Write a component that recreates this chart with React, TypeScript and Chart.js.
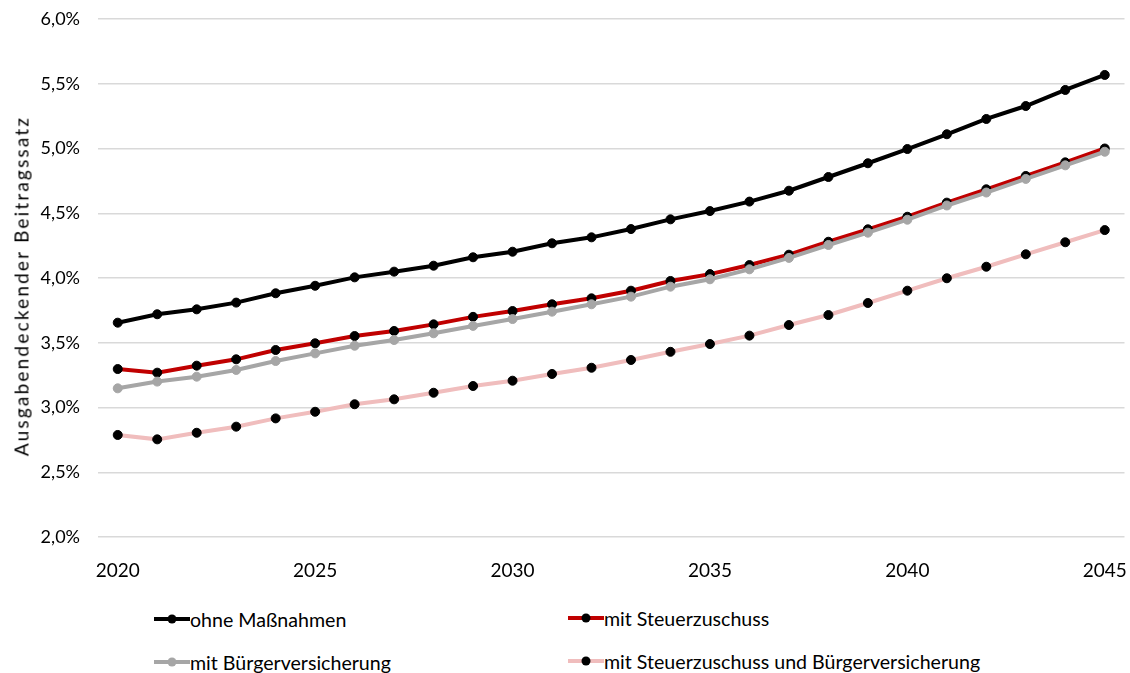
import React, { useEffect, useRef } from "react";
import { Chart, registerables } from "chart.js";

Chart.register(...registerables);

// Years on the x axis
const years = [
  "2020", "2021", "2022", "2023", "2024", "2025", "2026", "2027", "2028",
  "2029", "2030", "2031", "2032", "2033", "2034", "2035", "2036", "2037",
  "2038", "2039", "2040", "2041", "2042", "2043", "2044", "2045",
];

// Expenditure-covering contribution rate in percent, per scenario
const ohneMassnahmen = [
  3.655, 3.72, 3.758, 3.81, 3.882, 3.94, 4.005, 4.049, 4.095, 4.16, 4.203,
  4.268, 4.314, 4.378, 4.453, 4.517, 4.59, 4.674, 4.78, 4.886, 4.996, 5.11,
  5.228, 5.328, 5.452, 5.568,
];
const mitSteuerzuschuss = [
  3.297, 3.269, 3.323, 3.372, 3.444, 3.496, 3.552, 3.591, 3.642, 3.7, 3.745,
  3.797, 3.843, 3.902, 3.977, 4.03, 4.1, 4.18, 4.28, 4.376, 4.473, 4.582,
  4.685, 4.788, 4.893, 5.0,
];
const mitBuergerversicherung = [
  3.148, 3.2, 3.238, 3.29, 3.359, 3.418, 3.477, 3.521, 3.573, 3.63, 3.683,
  3.74, 3.797, 3.856, 3.933, 3.99, 4.067, 4.155, 4.255, 4.35, 4.45, 4.56,
  4.66, 4.765, 4.87, 4.975,
];
const mitBeidem = [
  2.788, 2.754, 2.805, 2.852, 2.916, 2.967, 3.025, 3.063, 3.114, 3.166, 3.207,
  3.259, 3.307, 3.367, 3.43, 3.49, 3.555, 3.637, 3.714, 3.807, 3.902, 3.998,
  4.087, 4.183, 4.276, 4.37,
];

const seriesNames = [
  "ohne Maßnahmen",
  "mit Steuerzuschuss",
  "mit Bürgerversicherung",
  "mit Steuerzuschuss und Bürgerversicherung",
];
const lineColors = ["#000000", "#c00000", "#a6a6a6", "#f0bdbd"];
const pointColors = ["#000000", "#000000", "#a6a6a6", "#000000"];
const drawOrder = [2, 1, 0, 3];
const yAxisTitle = "Ausgabendeckender Beitragssatz";

const FONT = "Lato, 'Open Sans', sans-serif";

function LegendItem({ idx, left, top }: { idx: number; left: number; top: number }) {
  return (
    <div
      style={{
        position: "absolute",
        left,
        top: top - 12,
        height: 24,
        display: "flex",
        alignItems: "center",
        fontFamily: FONT,
        fontSize: 19.6,
        color: "#000",
        whiteSpace: "nowrap",
      }}
    >
      <svg width={36} height={24} style={{ display: "block", marginRight: 0 }}>
        <line x1={0} y1={12} x2={36} y2={12} stroke={lineColors[idx]} strokeWidth={4} />
        <circle cx={18} cy={12} r={4.5} fill={pointColors[idx]} />
      </svg>
      <span>{seriesNames[idx]}</span>
    </div>
  );
}

export default function App() {
  const canvasRef = useRef<HTMLCanvasElement | null>(null);

  useEffect(() => {
    const canvas = canvasRef.current;
    if (!canvas) return;
    const values = [ohneMassnahmen, mitSteuerzuschuss, mitBuergerversicherung, mitBeidem];
    const chart = new Chart(canvas, {
      type: "line",
      data: {
        labels: years,
        datasets: values.map((data, i) => ({
          label: seriesNames[i],
          data,
          borderColor: lineColors[i],
          backgroundColor: pointColors[i],
          pointBackgroundColor: pointColors[i],
          pointBorderColor: pointColors[i],
          borderWidth: 4,
          pointRadius: 4.5,
          pointBorderWidth: 1,
          tension: 0,
          fill: false,
          order: drawOrder[i],
        })),
      },
      options: {
        responsive: false,
        animation: false,
        devicePixelRatio: 1,
        layout: { padding: { top: 19, left: 0, right: 5, bottom: 0 } },
        plugins: {
          legend: { display: false },
          tooltip: { enabled: false },
        },
        scales: {
          x: {
            offset: true,
            grid: { display: false, drawTicks: false },
            border: { display: false },
            ticks: {
              color: "#000",
              font: { family: FONT, size: 19 },
              padding: 22,
              autoSkip: false,
              maxRotation: 0,
              callback: (_v: any, i: number) => (i % 5 === 0 ? years[i] : ""),
            },
            afterFit: (scale: any) => {
              scale.height = 53;
              scale.paddingLeft = 0;
              scale.paddingRight = 0;
            },
          },
          y: {
            min: 2,
            max: 6,
            grid: { color: "#d9d9d9", lineWidth: 1.5, drawTicks: false },
            border: { display: false },
            ticks: {
              stepSize: 0.5,
              color: "#000",
              padding: 18,
              font: { family: FONT, size: 18 },
              callback: (v: any) => Number(v).toFixed(1).replace(".", ",") + "%",
            },
            afterFit: (scale: any) => {
              scale.width = 98;
              scale.paddingTop = 0;
              scale.paddingBottom = 0;
            },
          },
        },
      },
    });
    return () => chart.destroy();
  }, []);

  return (
    <div
      style={{
        position: "absolute",
        left: 0,
        top: 0,
        width: 1130,
        height: 673,
        background: "#fff",
        overflow: "hidden",
      }}
    >
      <canvas ref={canvasRef} width={1130} height={590} style={{ position: "absolute", left: 0, top: 0 }} />
      <div
        style={{
          position: "absolute",
          left: 21,
          top: 286,
          transform: "translate(-50%, -50%) rotate(-90deg)",
          fontFamily: FONT,
          fontSize: 19,
          letterSpacing: 2.2,
          whiteSpace: "nowrap",
          color: "#000",
        }}
      >
        {yAxisTitle}
      </div>
      <LegendItem idx={0} left={154} top={619} />
      <LegendItem idx={1} left={568} top={618} />
      <LegendItem idx={2} left={154} top={662} />
      <LegendItem idx={3} left={568} top={661} />
    </div>
  );
}
